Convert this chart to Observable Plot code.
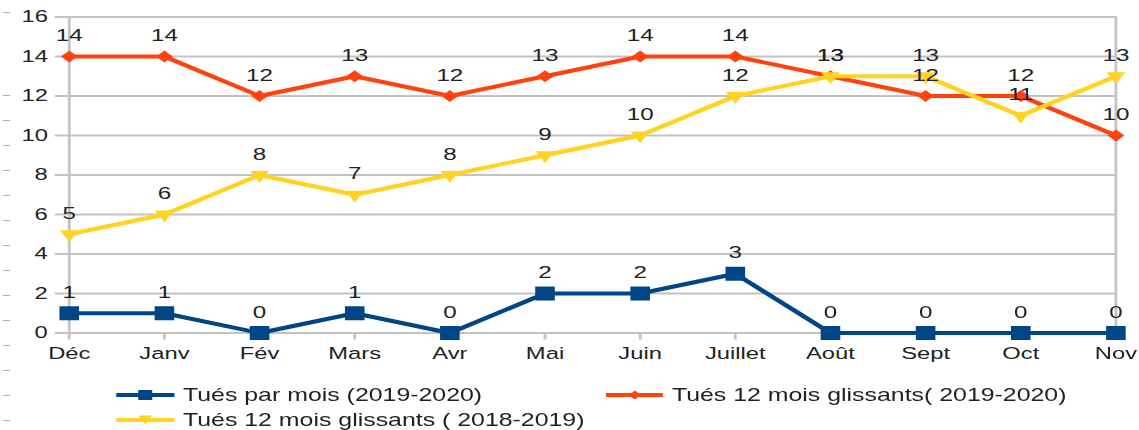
<!DOCTYPE html>
<html><head><meta charset="utf-8">
<script src="https://cdn.jsdelivr.net/npm/d3@7"></script>
<script src="https://cdn.jsdelivr.net/npm/@observablehq/plot@0.6"></script>
<style>
html,body{margin:0;padding:0;background:#fff;width:1139px;height:430px;overflow:hidden;font-family:"Liberation Sans",Arial,sans-serif;}
#wrap{position:absolute;left:0;top:0;width:814px;height:430px;transform:scaleX(1.39926);transform-origin:0 0;}
#pink{position:absolute;left:0;top:1px;width:612px;height:2px;background:#ff5a86;}
.dash{position:absolute;left:3px;width:7px;height:1px;background:#b0b0b0;}
.leg{position:absolute;height:20px;display:flex;align-items:center;font-size:17.8px;color:#222;white-space:nowrap;}
.leg svg{display:block;}
</style></head><body>
<div id="pink"></div>
<div id="wrap"><div id="chart"></div></div>
<script>
const months = ["Déc","Janv","Fév","Mars","Avr","Mai","Juin","Juillet","Août","Sept","Oct","Nov"];
const killedMonthly = [1,1,0,1,0,2,2,3,0,0,0,0];
const rolling20192020 = [14,14,12,13,12,13,14,14,13,12,12,10];
const rolling20182019 = [5,6,8,7,8,9,10,12,13,13,11,13];
const yTicks = [0,2,4,6,8,10,12,14,16];
const seriesNames = ["Tués par mois (2019-2020)","Tués 12 mois glissants( 2019-2020)","Tués 12 mois glissants ( 2018-2019)"];
const seriesColors = ["#004586","#ff420e","#ffd320"];

const rows = (vals) => months.map((m,i)=>({month:m, value:vals[i]}));
const blue = rows(killedMonthly), red = rows(rolling20192020), yellow = rows(rolling20182019);

const grid = "#c3c3c3";
const lbl = (data) => Plot.text(data, {x:"month", y:"value", text:d=>String(d.value), dy:-21, fontSize:17.3, fill:"#222"});

const chart = Plot.plot({
  width: 814, height: 375,
  marginLeft: 47.2, marginRight: 16.1, marginTop: 16.5, marginBottom: 42.5,
  x: {type:"point", domain: months, padding: 0},
  y: {domain:[0,16]},
  style: {fontFamily:"Liberation Sans, Arial, sans-serif", fontSize:"17px", color:"#222", background:"#fff", overflow:"visible"},
  marks: [
    Plot.ruleY(yTicks, {stroke:grid, strokeWidth:2}),
    Plot.ruleX([months[0], months[months.length-1]], {y1:0, y2:16, stroke:grid, strokeWidth:2}),
    Plot.axisY({ticks:yTicks, tickSize:8, tickPadding:5.5, stroke:grid, strokeWidth:2, fill:"#222", fontSize:17, label:null}),
    Plot.axisX({tickSize:7, tickPadding:6.7, stroke:grid, strokeWidth:2, fill:"#222", fontSize:17, label:null}),
    Plot.line(blue, {x:"month", y:"value", stroke:seriesColors[0], strokeWidth:4}),
    Plot.dot(blue, {x:"month", y:"value", symbol:"square", r:7.9, fill:seriesColors[0]}),
    Plot.line(red, {x:"month", y:"value", stroke:seriesColors[1], strokeWidth:4}),
    Plot.dot(red, {x:"month", y:"value", symbol:"square", r:4.8, rotate:45, fill:seriesColors[1]}),
    Plot.line(yellow, {x:"month", y:"value", stroke:seriesColors[2], strokeWidth:4}),
    Plot.dot(yellow, {x:"month", y:"value", symbol:"triangle", r:5, rotate:180, fill:seriesColors[2]}),
    lbl(blue), lbl(red), lbl(yellow)
  ]
});
document.getElementById("chart").appendChild(chart);

// legend
const wrap = document.getElementById("wrap");
const NS = "http://www.w3.org/2000/svg";
function legendItem(i, left, cy, sw, mx, gap, marker){
  const div = document.createElement("div");
  div.className = "leg";
  div.style.left = left + "px";
  div.style.top = (cy - 10) + "px";
  const svg = document.createElementNS(NS, "svg");
  svg.setAttribute("width", sw); svg.setAttribute("height", 20);
  const ln = document.createElementNS(NS, "line");
  ln.setAttribute("x1",0); ln.setAttribute("x2",sw); ln.setAttribute("y1",10); ln.setAttribute("y2",10);
  ln.setAttribute("stroke", seriesColors[i]); ln.setAttribute("stroke-width", 4);
  svg.appendChild(ln);
  const p = document.createElementNS(NS, "path");
  p.setAttribute("d", marker);
  p.setAttribute("transform", `translate(${mx},10)`);
  p.setAttribute("fill", seriesColors[i]);
  svg.appendChild(p);
  div.appendChild(svg);
  const sp = document.createElement("span");
  sp.style.marginLeft = gap + "px";
  sp.textContent = seriesNames[i];
  div.appendChild(sp);
  wrap.appendChild(div);
}
legendItem(0, 83.4, 395, 41.7, 20.8, 5.7, "M-5,-5H5V5H-5Z");
legendItem(1, 433.1, 395, 40.7, 20.7, 6.4, "M0,-4.5L4.5,0L0,4.5L-4.5,0Z");
legendItem(2, 83.4, 420, 41.7, 20.8, 5.7, "M-5,-4.5H5L0,4.5Z");

// decorative ruler dashes at the left edge
const dashY = [12].concat(d3.range(95, 430, 25));
for (const y of dashY){
  const d = document.createElement("div");
  d.className = "dash"; d.style.top = y + "px";
  document.body.appendChild(d);
}
</script>
</body></html>
